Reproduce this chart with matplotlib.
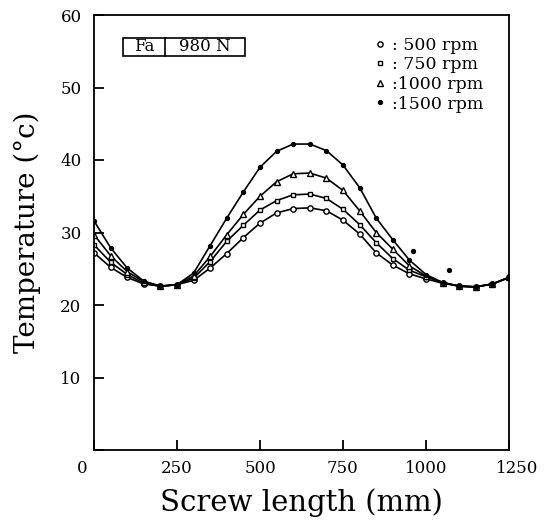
import matplotlib
matplotlib.use("Agg")
import matplotlib.pyplot as plt
from matplotlib.lines import Line2D
from matplotlib.patches import Rectangle
from matplotlib.transforms import ScaledTranslation

# ---- data ----
screw_length = [0, 50, 100, 150, 200, 250, 300, 350, 400, 450, 500, 550, 600,
                650, 700, 750, 800, 850, 900, 950, 1000, 1050, 1100, 1150, 1200, 1250]

t_500 = [27.2, 25.2, 23.8, 22.9, 22.6, 22.8, 23.4, 25.1, 27.1, 29.3, 31.3, 32.7, 33.3,
         33.4, 33.0, 31.7, 29.8, 27.2, 25.5, 24.3, 23.6, 23.0, 22.6, 22.5, 22.9, 23.8]
t_750 = [28.3, 25.9, 24.2, 23.0, 22.6, 22.8, 23.7, 26.0, 28.8, 31.0, 33.1, 34.4, 35.2,
         35.3, 34.7, 33.2, 31.1, 28.6, 26.4, 24.8, 23.9, 23.1, 22.6, 22.5, 22.9, 23.8]
t_1000 = [29.7, 26.8, 24.6, 23.2, 22.6, 22.8, 24.0, 26.7, 29.7, 32.5, 35.0, 37.0, 38.1,
          38.2, 37.5, 35.8, 33.0, 30.0, 27.7, 25.4, 24.0, 23.1, 22.6, 22.5, 22.9, 23.8]
t_1500 = [31.6, 27.9, 25.1, 23.3, 22.6, 22.8, 24.4, 28.2, 32.0, 35.6, 39.0, 41.2, 42.2,
          42.2, 41.3, 39.3, 36.2, 32.0, 29.0, 26.2, 24.2, 23.1, 22.6, 22.5, 22.9, 23.8]
# isolated measured points (1500 rpm) lying off the curve
extra_1500_x = [960, 1070]
extra_1500_y = [27.5, 24.8]

series_labels = [": 500 rpm", ": 750 rpm", ":1000 rpm", ":1500 rpm"]
x_ticks = [0, 250, 500, 750, 1000, 1250]
y_ticks = [0, 10, 20, 30, 40, 50, 60]

SERIF = "DejaVu Serif"

fig = plt.figure(figsize=(5.44, 5.26), dpi=100)
ax = fig.add_axes([94 / 544, 1 - 450 / 526, (509 - 94) / 544, (450 - 15) / 526])

styles = [
    dict(marker="o", mfc="white", mec="black", ms=3.8, mew=1.0),
    dict(marker="s", mfc="white", mec="black", ms=3.4, mew=1.0),
    dict(marker="^", mfc="white", mec="black", ms=3.8, mew=1.0),
    dict(marker="o", mfc="black", mec="black", ms=3.0, mew=0.8),
]
for ys, st in zip([t_500, t_750, t_1000, t_1500], styles):
    ax.plot(screw_length, ys, color="black", lw=1.2, **st)
ax.plot(extra_1500_x, extra_1500_y, ls="none", **styles[3])

ax.set_xlim(0, 1250)
ax.set_ylim(0, 60)
ax.set_xticks(x_ticks)
ax.set_yticks(y_ticks)
ax.set_xticklabels([str(v) for v in x_ticks])
ax.set_yticklabels([""] + [str(v) for v in y_ticks[1:]])

for s in ax.spines.values():
    s.set_linewidth(1.3)
ax.tick_params(axis="both", direction="in", length=7, width=1.3,
               labelsize=12, top=False, right=False)
ax.tick_params(axis="y", pad=9)
ax.tick_params(axis="x", pad=7)
for lab in ax.get_xticklabels() + ax.get_yticklabels():
    lab.set_fontfamily(SERIF)

# shift first and last x tick labels like the reference
xl = ax.get_xticklabels()
xl[0].set_transform(xl[0].get_transform() + ScaledTranslation(-12 / 100, 0, fig.dpi_scale_trans))
xl[-1].set_transform(xl[-1].get_transform() + ScaledTranslation(8 / 100, 0, fig.dpi_scale_trans))

ax.set_xlabel("Screw length (mm)", fontsize=21, family=SERIF, labelpad=8)
ax.set_ylabel("Temperature (°c)", fontsize=20, family=SERIF, labelpad=14)

# Fa | 980 N box
box_y0, box_y1 = 0.906, 0.947
ax.add_patch(Rectangle((0.07, box_y0), 0.295, box_y1 - box_y0, transform=ax.transAxes,
                       fill=False, lw=1.2, ec="black"))
ax.plot([0.172, 0.172], [box_y0, box_y1], transform=ax.transAxes, color="black", lw=1.2)
ax.text(0.121, (box_y0 + box_y1) / 2, "Fa", transform=ax.transAxes, ha="center",
        va="center", fontsize=12, family=SERIF)
ax.text(0.268, (box_y0 + box_y1) / 2, "980 N", transform=ax.transAxes, ha="center",
        va="center", fontsize=12, family=SERIF)

# legend
handles = [Line2D([], [], ls="none", **st) for st in styles]
leg = ax.legend(handles, series_labels, loc="upper right", bbox_to_anchor=(0.96, 0.97),
                frameon=False, handlelength=0.6, handletextpad=0.4, borderpad=0,
                labelspacing=0.15, prop={"family": SERIF, "size": 12.5})

fig.savefig("out.png", dpi=100)
